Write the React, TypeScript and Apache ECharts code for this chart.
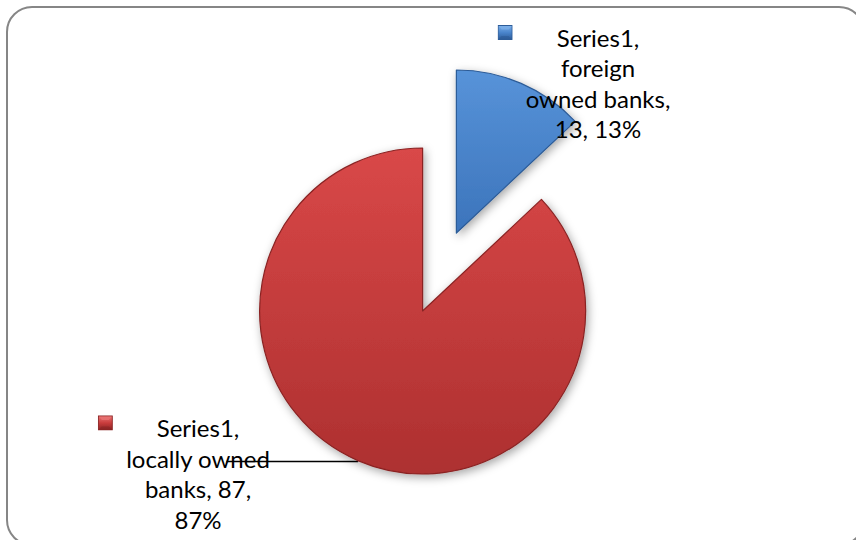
import React, { useEffect, useRef } from "react";
import * as echarts from "echarts";

const seriesName = "Series1";
const categories = ["foreign owned banks", "locally owned banks"];
const values = [13, 87];
// Data label text, line by line ({s}=series, {v}=value, {p}=percent)
const labelTemplates = [
  ["{s},", "foreign", "owned banks,", "{v}, {p}%"],
  ["{s},", "locally owned", "banks, {v},", "{p}%"],
];

// styles
const sliceTop = ["#5793d9", "#d94848"];
const sliceBottom = ["#3c74bb", "#ad3030"];
const sliceEdge = ["#2c5b97", "#8a2424"];
const PIE_CENTER = [439.5, 272];
const PIE_RADIUS = 163;
const EXPLODE = 42.5;
const LABEL_POS = [
  [584, 83],
  [184, 473.5],
];
const FONT = "Lato, Carlito, 'Liberation Sans', sans-serif";

function markerUrl(light: string, mid: string, dark: string) {
  const svg =
    `<svg xmlns="http://www.w3.org/2000/svg" width="15" height="18" viewBox="0 0 15 18">` +
    `<defs><linearGradient id="g" x1="0" y1="0" x2="0" y2="1"><stop offset="0" stop-color="${light}"/><stop offset="0.5" stop-color="${mid}"/><stop offset="1" stop-color="${dark}"/></linearGradient></defs>` +
    `<rect x="0.5" y="3.5" width="14" height="14" fill="url(#g)" stroke="${dark}" stroke-width="1"/>` +
    `<polygon points="1,4 14,4 11,7.5 4,7.5" fill="${light}" opacity="0.85"/>` +
    `<polygon points="4,14 11,14 14,17 1,17" fill="${dark}" opacity="0.6"/>` +
    `</svg>`;
  return "data:image/svg+xml;charset=utf-8," + encodeURIComponent(svg);
}

export default function App() {
  const ref = useRef<HTMLDivElement>(null);

  useEffect(() => {
    if (!ref.current) return;
    const chart = echarts.init(ref.current, undefined, { renderer: "svg" });

    const total = values.reduce((a, b) => a + b, 0);
    let cum = 0;
    const centers = values.map((v) => {
      const mid = ((cum + v / 2) / total) * Math.PI * 2;
      cum += v;
      return [
        PIE_CENTER[0] + EXPLODE * Math.sin(mid),
        PIE_CENTER[1] - EXPLODE * Math.cos(mid),
      ];
    });

    const markers = [
      markerUrl("#7aaee8", "#4a85cc", "#2d5c98"),
      markerUrl("#e87272", "#c83c3c", "#8a2424"),
    ];

    const rich: any = {
      g: { width: 13, align: "left", lineHeight: 30.5 },
      e: { width: 28, align: "left", lineHeight: 30.5 },
      t: {
        fontFamily: FONT,
        fontSize: 24,
        lineHeight: 30.5,
        color: "#000",
        align: "center",
      },
    };
    markers.forEach((m, i) => {
      rich["m" + i] = {
        width: 15,
        height: 18,
        align: "left",
        verticalAlign: "top",
        backgroundColor: { image: m },
      };
    });

    const formatter = (p: any) => {
      const pct = Math.round(p.percent);
      return labelTemplates[p.dataIndex]
        .map((ln, k) => {
          const txt = ln
            .replace("{s}", seriesName)
            .replace("{v}", String(p.value))
            .replace("{p}", String(pct));
          return (k === 0 ? `{m${p.dataIndex}|}{g| }` : "{e| }") + `{t|${txt}}`;
        })
        .join("\n");
    };

    const series = values.map((_, i) => ({
      type: "pie",
      silent: true,
      center: centers[i],
      radius: PIE_RADIUS,
      startAngle: 90,
      clockwise: true,
      avoidLabelOverlap: false,
      z: 2 + i,
      label: {
        show: true,
        position: "outside",
        formatter,
        rich,
      },
      labelLine: {
        show: true,
        length: 1,
        length2: 131,
        smooth: false,
        lineStyle: { color: "#000", width: 1.3 },
      },
      labelLayout: (p: any) =>
        p.dataIndex === i
          ? {
              x: LABEL_POS[i][0],
              y: LABEL_POS[i][1],
              align: "center",
              verticalAlign: "middle",
              labelLinePoints: p.labelLinePoints,
            }
          : {},
      data: values.map((v, j) => ({
        name: categories[j],
        value: v,
        itemStyle:
          j === i
            ? {
                color: new echarts.graphic.LinearGradient(0, 0, 0, 1, [
                  { offset: 0, color: sliceTop[j] },
                  { offset: 1, color: sliceBottom[j] },
                ]),
                borderColor: sliceEdge[j],
                borderWidth: 1.2,
                shadowBlur: 10,
                shadowOffsetX: 2,
                shadowOffsetY: 3,
                shadowColor: "rgba(0,0,0,0.35)",
              }
            : {
                color: "rgba(0,0,0,0)",
                borderWidth: 0,
                shadowBlur: 0,
                shadowColor: "rgba(0,0,0,0)",
              },
        label: { show: j === i },
        labelLine: { show: j === i && i === 1 },
      })),
    }));

    chart.setOption({
      animation: false,
      backgroundColor: "#ffffff",
      graphic: [
        {
          type: "rect",
          silent: true,
          z: -10,
          shape: { x: 7, y: 7, width: 857, height: 538, r: 25 },
          style: { fill: "none", stroke: "#868686", lineWidth: 2 },
        },
      ],
      series,
    } as any);

    return () => chart.dispose();
  }, []);

  return (
    <div
      ref={ref}
      style={{ position: "fixed", left: 0, top: 0, width: 856, height: 540 }}
    />
  );
}
